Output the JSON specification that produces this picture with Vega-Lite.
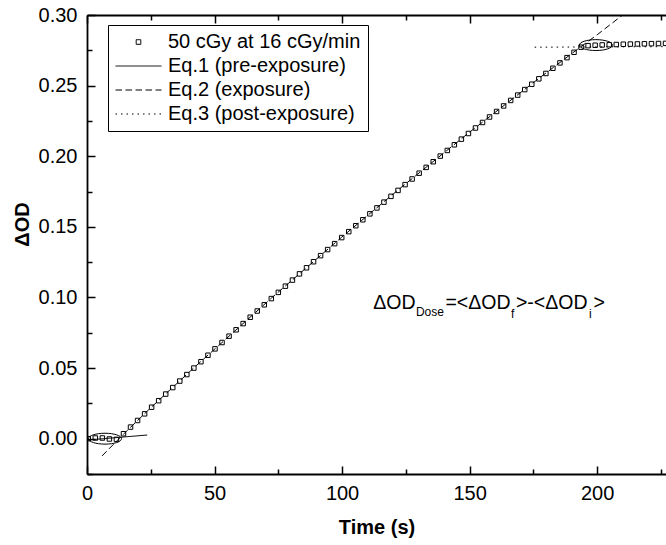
{
  "$schema": "https://vega.github.io/schema/vega-lite/v6.json",
  "width": 579,
  "height": 459,
  "autosize": "none",
  "padding": {"left": 87, "top": 15, "right": 0, "bottom": 71},
  "background": "white",
  "config": {
    "view": {"stroke": null},
    "font": "Liberation Sans",
    "axis": {
      "domainColor": "black", "tickColor": "black", "labelColor": "black", "titleColor": "black",
      "labelFont": "Liberation Sans", "titleFont": "Liberation Sans",
      "grid": false, "tickWidth": 1.5, "domainWidth": 1.8,
      "labelFontSize": 20, "titleFontSize": 20, "labelFlush": false, "labelOverlap": false
    }
  },
  "datasets": {
    "meas": [
      {"time": 0.5, "dOD": 0.0000}, {"time": 3.26, "dOD": 0.0005}, {"time": 6.02, "dOD": 0.0005}, {"time": 8.78, "dOD": -0.0002},
      {"time": 11.54, "dOD": -0.0005}, {"time": 14.3, "dOD": 0.0035}, {"time": 17.06, "dOD": 0.0082}, {"time": 19.82, "dOD": 0.0129},
      {"time": 22.58, "dOD": 0.0176}, {"time": 25.34, "dOD": 0.0223}, {"time": 28.1, "dOD": 0.0269}, {"time": 30.86, "dOD": 0.0316},
      {"time": 33.62, "dOD": 0.0362}, {"time": 36.38, "dOD": 0.0408}, {"time": 39.14, "dOD": 0.0454}, {"time": 41.9, "dOD": 0.0500},
      {"time": 44.66, "dOD": 0.0545}, {"time": 47.42, "dOD": 0.0591}, {"time": 50.18, "dOD": 0.0636}, {"time": 52.94, "dOD": 0.0681},
      {"time": 55.7, "dOD": 0.0726}, {"time": 58.46, "dOD": 0.0771}, {"time": 61.22, "dOD": 0.0815}, {"time": 63.98, "dOD": 0.0860},
      {"time": 66.74, "dOD": 0.0904}, {"time": 69.5, "dOD": 0.0948}, {"time": 72.26, "dOD": 0.0992}, {"time": 75.02, "dOD": 0.1036},
      {"time": 77.78, "dOD": 0.1080}, {"time": 80.54, "dOD": 0.1123}, {"time": 83.3, "dOD": 0.1167}, {"time": 86.06, "dOD": 0.1210},
      {"time": 88.82, "dOD": 0.1253}, {"time": 91.58, "dOD": 0.1296}, {"time": 94.34, "dOD": 0.1339}, {"time": 97.1, "dOD": 0.1381},
      {"time": 99.86, "dOD": 0.1424}, {"time": 102.62, "dOD": 0.1466}, {"time": 105.38, "dOD": 0.1508}, {"time": 108.14, "dOD": 0.1550},
      {"time": 110.9, "dOD": 0.1592}, {"time": 113.66, "dOD": 0.1634}, {"time": 116.42, "dOD": 0.1675}, {"time": 119.18, "dOD": 0.1716},
      {"time": 121.94, "dOD": 0.1758}, {"time": 124.7, "dOD": 0.1799}, {"time": 127.46, "dOD": 0.1839}, {"time": 130.22, "dOD": 0.1880},
      {"time": 132.98, "dOD": 0.1921}, {"time": 135.74, "dOD": 0.1961}, {"time": 138.5, "dOD": 0.2001}, {"time": 141.26, "dOD": 0.2041},
      {"time": 144.02, "dOD": 0.2081}, {"time": 146.78, "dOD": 0.2121}, {"time": 149.54, "dOD": 0.2161}, {"time": 152.3, "dOD": 0.2200},
      {"time": 155.06, "dOD": 0.2239}, {"time": 157.82, "dOD": 0.2278}, {"time": 160.58, "dOD": 0.2317}, {"time": 163.34, "dOD": 0.2356},
      {"time": 166.1, "dOD": 0.2395}, {"time": 168.86, "dOD": 0.2433}, {"time": 171.62, "dOD": 0.2472}, {"time": 174.38, "dOD": 0.2510},
      {"time": 177.14, "dOD": 0.2548}, {"time": 179.9, "dOD": 0.2586}, {"time": 182.66, "dOD": 0.2623}, {"time": 185.42, "dOD": 0.2661},
      {"time": 188.18, "dOD": 0.2698}, {"time": 190.94, "dOD": 0.2736}, {"time": 193.7, "dOD": 0.2772}, {"time": 196.46, "dOD": 0.2783},
      {"time": 199.22, "dOD": 0.2786}, {"time": 201.98, "dOD": 0.2788}, {"time": 204.74, "dOD": 0.2790}, {"time": 207.5, "dOD": 0.2791},
      {"time": 210.26, "dOD": 0.2793}, {"time": 213.02, "dOD": 0.2794}, {"time": 215.78, "dOD": 0.2795}, {"time": 218.54, "dOD": 0.2796},
      {"time": 221.3, "dOD": 0.2797}, {"time": 224.06, "dOD": 0.2798}, {"time": 226.82, "dOD": 0.2799}
    ],
    "fits": [
      {"series": "Eq.1 (pre-exposure)", "time": 0.5, "dOD": -0.0009},
      {"series": "Eq.1 (pre-exposure)", "time": 23.6, "dOD": 0.0026},
      {"series": "Eq.2 (exposure)", "time": 5.9, "dOD": -0.0122},
      {"series": "Eq.2 (exposure)", "time": 14.3, "dOD": 0.0032},
      {"series": "Eq.2 (exposure)", "time": 25.34, "dOD": 0.0225},
      {"series": "Eq.2 (exposure)", "time": 41.9, "dOD": 0.0502},
      {"series": "Eq.2 (exposure)", "time": 72.26, "dOD": 0.0995},
      {"series": "Eq.2 (exposure)", "time": 99.86, "dOD": 0.1427},
      {"series": "Eq.2 (exposure)", "time": 121.94, "dOD": 0.1761},
      {"series": "Eq.2 (exposure)", "time": 149.54, "dOD": 0.2164},
      {"series": "Eq.2 (exposure)", "time": 177.14, "dOD": 0.2551},
      {"series": "Eq.2 (exposure)", "time": 190.94, "dOD": 0.2739},
      {"series": "Eq.2 (exposure)", "time": 200.0, "dOD": 0.2860},
      {"series": "Eq.2 (exposure)", "time": 210.0, "dOD": 0.3000},
      {"series": "Eq.3 (post-exposure)", "time": 175.5, "dOD": 0.2772},
      {"series": "Eq.3 (post-exposure)", "time": 227.0, "dOD": 0.2776}
    ],
    "ellipses": [
      {"time": 7.06, "dOD": 0.0000},
      {"time": 199.5, "dOD": 0.2787}
    ],
    "annot": [
      {"time": 112.23, "dOD": 0.0916, "label": "ΔOD", "role": "main"},
      {"time": 140.53, "dOD": 0.0916, "label": "=<ΔOD", "role": "main"},
      {"time": 168.17, "dOD": 0.0916, "label": ">-<ΔOD", "role": "main"},
      {"time": 198.55, "dOD": 0.0916, "label": ">", "role": "main"},
      {"time": 128.97, "dOD": 0.0868, "label": "Dose", "role": "sub"},
      {"time": 166.21, "dOD": 0.0856, "label": "f", "role": "sub"},
      {"time": 196.79, "dOD": 0.0856, "label": "i", "role": "sub"}
    ]
  },
  "layer": [
    {
      "data": {"name": "fits"},
      "mark": {"type": "line", "color": "black", "strokeWidth": 1, "clip": true},
      "encoding": {
        "x": {"field": "time", "type": "quantitative",
              "scale": {"domain": [0, 227], "nice": false, "zero": false},
              "axis": {"orient": "bottom", "values": [25, 75, 125, 175, 225], "labels": false, "domain": false, "title": null, "tickSize": -5}},
        "y": {"field": "dOD", "type": "quantitative",
              "scale": {"domain": [-0.025, 0.30], "nice": false, "zero": false},
              "axis": {"orient": "left", "values": [-0.025, 0.025, 0.075, 0.125, 0.175, 0.225, 0.275], "labels": false, "domain": false, "title": null, "tickSize": -5}},
        "strokeDash": {
          "field": "series", "type": "nominal",
          "scale": {
            "domain": ["50 cGy at 16 cGy/min", "Eq.1 (pre-exposure)", "Eq.2 (exposure)", "Eq.3 (post-exposure)"],
            "range": [[1, 0], [1, 0], [6.5, 3.5], [1.5, 4]]
          },
          "legend": {
            "orient": "none", "legendX": 21, "legendY": 10, "title": null,
            "strokeColor": "black", "padding": 7, "rowPadding": 4, "clipHeight": 20,
            "symbolType": "stroke", "symbolSize": 2116, "symbolStrokeWidth": 1, "symbolStrokeColor": "black",
            "symbolOffset": 0, "labelOffset": 6, "labelFontSize": 20, "labelColor": "black", "labelLimit": 400,
            "labelFont": "Liberation Sans",
            "encode": {
              "symbols": {
                "update": {
                  "shape": {"signal": "datum.value === '50 cGy at 16 cGy/min' ? 'M -0.1 -0.1 L 0.1 -0.1 L 0.1 0.1 L -0.1 0.1 Z' : 'stroke'"},
                  "fill": {"value": "transparent"},
                  "stroke": {"value": "black"}
                }
              }
            }
          }
        }
      }
    },
    {
      "data": {"name": "meas"},
      "mark": {"type": "point", "shape": "square", "size": 20, "filled": false, "color": "black", "strokeWidth": 1, "opacity": 1, "clip": true},
      "encoding": {
        "x": {"field": "time", "type": "quantitative",
              "axis": {"orient": "bottom", "values": [0, 50, 100, 150, 200], "format": "d", "tickSize": -8, "labelPadding": 17.5,
                       "title": "Time (s)", "titleFontWeight": "bold", "titleY": 59, "titleBaseline": "alphabetic"}},
        "y": {"field": "dOD", "type": "quantitative",
              "axis": {"orient": "left", "values": [0, 0.05, 0.1, 0.15, 0.2, 0.25, 0.3], "format": ".2f", "tickSize": -8, "labelPadding": 18,
                       "title": "ΔOD", "titleFontWeight": "bold", "titleAngle": -90, "titleX": -59, "titleY": 209,
                       "titleAlign": "center", "titleBaseline": "alphabetic"}}
      }
    },
    {
      "data": {"name": "ellipses"},
      "mark": {"type": "point", "shape": "M -1 0 C -1 -0.182 -0.552 -0.33 0 -0.33 C 0.552 -0.33 1 -0.182 1 0 C 1 0.182 0.552 0.33 0 0.33 C -0.552 0.33 -1 0.182 -1 0 Z",
               "size": 1089, "filled": false, "color": "black", "strokeWidth": 1, "opacity": 1},
      "encoding": {
        "x": {"field": "time", "type": "quantitative",
              "axis": {"orient": "top", "values": [0, 50, 100, 150, 200], "labels": false, "title": null, "tickSize": -8}},
        "y": {"field": "dOD", "type": "quantitative", "axis": null}
      }
    },
    {
      "data": {"name": "annot"},
      "transform": [{"filter": "datum.role === 'main'"}],
      "mark": {"type": "text", "align": "left", "baseline": "alphabetic", "fontSize": 19.5, "font": "Liberation Sans", "color": "black"},
      "encoding": {
        "x": {"field": "time", "type": "quantitative",
              "axis": {"orient": "top", "values": [25, 75, 125, 175, 225], "labels": false, "domain": false, "title": null, "tickSize": -5}},
        "y": {"field": "dOD", "type": "quantitative", "axis": null},
        "text": {"field": "label"}
      }
    },
    {
      "data": {"name": "annot"},
      "transform": [{"filter": "datum.role === 'sub'"}],
      "mark": {"type": "text", "align": "left", "baseline": "alphabetic", "fontSize": 12, "font": "Liberation Sans", "color": "black"},
      "encoding": {
        "x": {"field": "time", "type": "quantitative", "axis": null},
        "y": {"field": "dOD", "type": "quantitative", "axis": null},
        "text": {"field": "label"}
      }
    }
  ],
  "resolve": {"axis": {"x": "independent", "y": "independent"}}
}
